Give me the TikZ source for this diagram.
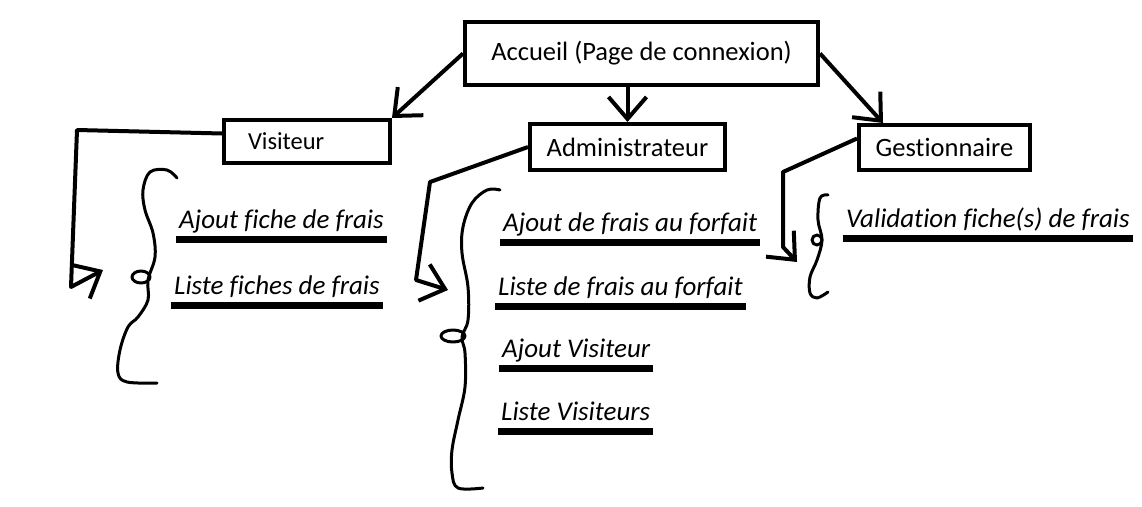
\documentclass[tikz,border=0pt]{standalone}
\usepackage{fontspec}
\setmainfont{Carlito}[Ligatures=CommonOff]
\usetikzlibrary{arrows.meta}
\tikzstyle{pageNode} = [
 rectangle,
 draw,
 line width=4pt,
 inner sep=0pt,
 font=\fontsize{26.5}{30}\selectfont
]
\tikzstyle{menuItem} = [
 anchor=south west,
 inner xsep=3pt,
 inner ysep=0pt,
 text depth=7pt,
 font=\fontsize{27}{30}\selectfont\itshape
]
\tikzstyle{underBar} = [line width=7pt]
\tikzstyle{link} = [
 line width=4pt,
 line join=round,
 -{Straight Barb[length=22pt,width=38pt]}
]
\tikzstyle{brace} = [line width=3pt, line cap=round, line join=round]

\begin{document}
\begin{tikzpicture}[x=1pt,y=-1pt]
  \useasboundingbox (0,0) rectangle (1142,506);

  % pages
  \node [pageNode, minimum width=353pt, minimum height=63pt] (home) at (641.5,53.5) {\raisebox{2pt}{Accueil (Page de connexion)}};
  \node [pageNode, inner xsep=24pt, text width=118pt, align=left, minimum height=43pt,
         font=\fontsize{24.5}{28}\selectfont] (vis) at (307,141.5) {Visiteur};
  \node [pageNode, minimum width=195pt, minimum height=46pt] (adm) at (627.5,147) {Administrateur};
  \node [pageNode, minimum width=171pt, minimum height=45pt] (ges) at (944.5,147.5) {Gestionnaire};

  % from the home page
  \draw [link] (home.west) -- (vis.north east);
  \draw [link] (adm.north |- home.south) -- (adm.north);
  \draw [link] (home.east) -- ([xshift=26pt]ges.north west);

  % free ends of the menu links
  \coordinate (vtip) at (103,270);
  \coordinate (atip) at (448,290);
  \coordinate (gtip) at (797,262);

  \draw [link] ([yshift=8pt]vis.west) -- (77,130) -- (71,287) -- (vtip);
  \draw [link] (adm.west) -- (430,182) -- (416,280) -- (atip);
  \draw [link] ([yshift=9pt]ges.west) -- (783,172) -- (783,247) -- (gtip);

  % braces
  \draw [brace] plot [smooth, tension=0.6] coordinates {
    (177,178) (167,170) (150,172) (143,190) (145,210) (153,233) (155,257)
    (148,280) (148,300) (138,317) (128,327) (120,350) (118,373) (127,382) (157,383)};
  \draw [brace] (141,277) circle [x radius=9, y radius=6];
  \draw [brace] plot [smooth, tension=0.6] coordinates {
    (500,190) (487,190) (472,203) (463,227) (462,253) (468,287) (468,320)
    (462,337) (465,353) (465,387) (458,420) (452,450) (452,473) (458,488) (483,488)};
  \draw [brace] (453,336) circle [x radius=12, y radius=6];
  \draw [brace] plot [smooth, tension=0.6] coordinates {
    (828,195) (820,198) (818,220) (822,240) (817,260) (810,277) (810,293) (817,298) (828,292)};
  \draw [brace] (817,240) circle [radius=5];

  % menu entries
  \node [menuItem] (v1) at (176,236) {Ajout fiche de frais};
  \node [menuItem] (v2) at (171,302) {Liste fiches de frais};
  \node [menuItem] (a1) at (500,239) {Ajout de frais au forfait};
  \node [menuItem] (a2) at (495,303) {Liste de frais au forfait};
  \node [menuItem] (a3) at (499,365) {Ajout Visiteur};
  \node [menuItem] (a4) at (498,428) {Liste Visiteurs};
  \node [menuItem] (g1) at (843,235) {Validation fiche(s) de frais};

  \foreach \n in {v1,v2,a1,a2,a3,a4,g1}
    \draw [underBar] ([yshift=-3.5pt]\n.south west) -- ([yshift=-3.5pt]\n.south east);
\end{tikzpicture}
\end{document}
